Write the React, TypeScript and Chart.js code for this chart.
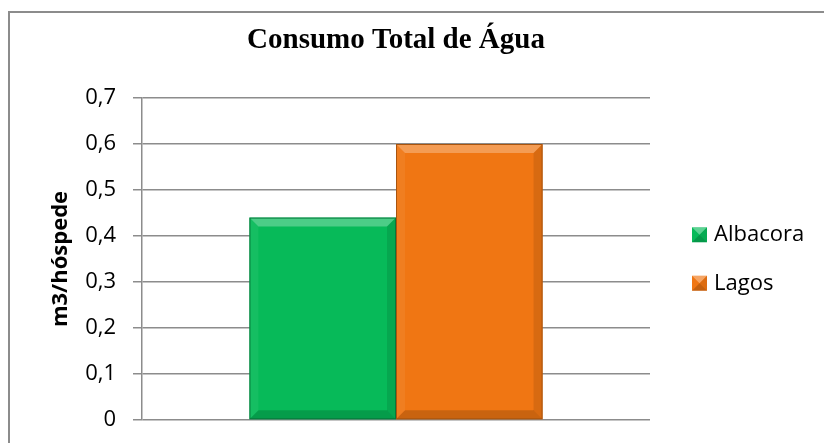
import { useEffect, useRef } from 'react';
import { Chart, registerables } from 'chart.js';

Chart.register(...registerables);

const categories = [''];
const seriesNames = ['Albacora', 'Lagos'];
const albacoraValues = [0.44];
const lagosValues = [0.6];
const yTickLabels = ['0', '0,1', '0,2', '0,3', '0,4', '0,5', '0,6', '0,7'];
const seriesColors = ['#07BA59', '#F07613'];
const seriesEdge = ['#067a3c', '#a9540e'];
const chartTitle = 'Consumo Total de Água';
const yAxisTitle = 'm3/hóspede';

const GRID = '#8c8c8c';

function bevelRect(ctx: CanvasRenderingContext2D, l: number, t: number, r: number, b: number, d: number) {
  const shades: [number[][], string][] = [
    [[[l, t], [r, t], [r - d, t + d], [l + d, t + d]], 'rgba(255,255,255,0.28)'],
    [[[l, t], [l + d, t + d], [l + d, b - d], [l, b]], 'rgba(255,255,255,0.06)'],
    [[[r, t], [r, b], [r - d, b - d], [r - d, t + d]], 'rgba(0,0,0,0.10)'],
    [[[l, b], [l + d, b - d], [r - d, b - d], [r, b]], 'rgba(0,0,0,0.16)'],
  ];
  shades.forEach(([pts, col]) => {
    ctx.beginPath();
    ctx.moveTo(pts[0][0], pts[0][1]);
    for (let k = 1; k < pts.length; k++) ctx.lineTo(pts[k][0], pts[k][1]);
    ctx.closePath();
    ctx.fillStyle = col;
    ctx.fill();
  });
}

const bevelPlugin = {
  id: 'bevelBars',
  afterDatasetsDraw(chart: any) {
    const ctx = chart.ctx as CanvasRenderingContext2D;
    ctx.save();
    chart.data.datasets.forEach((ds: any, i: number) => {
      const meta = chart.getDatasetMeta(i);
      meta.data.forEach((el: any) => {
        const p = el.getProps(['x', 'y', 'base', 'width'], true);
        const l = p.x - p.width / 2;
        const r = p.x + p.width / 2;
        bevelRect(ctx, l, p.y, r, p.base, 9);
        ctx.strokeStyle = seriesEdge[i];
        ctx.lineWidth = 1;
        ctx.strokeRect(l + 0.5, p.y + 0.5, p.width - 1, p.base - p.y - 1);
      });
    });
    ctx.restore();
  },
};

const sideLegendPlugin = {
  id: 'sideLegend',
  afterDraw(chart: any) {
    const ctx = chart.ctx as CanvasRenderingContext2D;
    const area = chart.chartArea;
    const n = chart.data.datasets.length;
    const mid = (area.top + area.bottom) / 2;
    const gap = 48.5;
    const box = 15;
    ctx.save();
    chart.data.datasets.forEach((ds: any, i: number) => {
      const cy = mid + (i - (n - 1) / 2) * gap;
      const x = area.right + 42;
      const y = cy - box / 2;
      ctx.fillStyle = ds.backgroundColor;
      ctx.fillRect(x, y, box, box);
      const cx = x + box / 2;
      const tris: [number[][], string][] = [
        [[[x, y], [x + box, y], [cx, cy]], 'rgba(255,255,255,0.35)'],
        [[[x, y + box], [x + box, y + box], [cx, cy]], 'rgba(0,0,0,0.18)'],
        [[[x + box, y], [x + box, y + box], [cx, cy]], 'rgba(0,0,0,0.08)'],
      ];
      tris.forEach(([pts, col]) => {
        ctx.beginPath();
        ctx.moveTo(pts[0][0], pts[0][1]);
        ctx.lineTo(pts[1][0], pts[1][1]);
        ctx.lineTo(pts[2][0], pts[2][1]);
        ctx.closePath();
        ctx.fillStyle = col;
        ctx.fill();
      });
      ctx.fillStyle = '#000';
      ctx.font = '22px "Open Sans"';
      ctx.textBaseline = 'middle';
      ctx.textAlign = 'left';
      ctx.fillText(ds.label, x + box + 7, cy);
    });
    ctx.restore();
  },
};

export default function App() {
  const canvasRef = useRef<HTMLCanvasElement | null>(null);

  useEffect(() => {
    if (!canvasRef.current) return;
    const chart = new Chart(canvasRef.current, {
      type: 'bar',
      data: {
        labels: categories,
        datasets: [
          { label: seriesNames[0], data: albacoraValues, backgroundColor: seriesColors[0] },
          { label: seriesNames[1], data: lagosValues, backgroundColor: seriesColors[1] },
        ],
      },
      options: {
        animation: false,
        responsive: true,
        maintainAspectRatio: false,
        layout: { padding: { left: 0, right: 174, top: 0, bottom: 23 } },
        datasets: { bar: { categoryPercentage: 0.577, barPercentage: 1 } },
        plugins: {
          legend: { display: false },
          tooltip: { enabled: false },
          title: {
            display: true,
            text: chartTitle,
            fullSize: false,
            color: '#000',
            font: { family: '"Liberation Serif", "Times New Roman", serif', size: 29, weight: 'bold', lineHeight: 1.2 },
            padding: { top: 10.6, bottom: 39.6 },
          },
        },
        scales: {
          x: { display: false },
          y: {
            min: 0,
            max: 0.7,
            afterFit: (s: any) => {
              s.width = 132;
              s.paddingTop = 0;
              s.paddingBottom = 0;
            },
            ticks: {
              stepSize: 0.1,
              padding: 17,
              color: '#000',
              font: { family: '"Open Sans"', size: 22 },
              callback: (_v: any, i: number) => yTickLabels[i],
            },
            grid: { color: GRID, lineWidth: 1.5, tickLength: 9, tickColor: GRID, drawTicks: true },
            border: { display: true, color: GRID, width: 1.5 },
            title: {
              display: true,
              text: yAxisTitle,
              color: '#000',
              font: { family: '"Open Sans"', size: 22, weight: 'bold', lineHeight: 1.2 },
              padding: { top: 37.8, bottom: 0 },
            },
          },
        },
      },
      plugins: [bevelPlugin, sideLegendPlugin],
    } as any);
    return () => chart.destroy();
  }, []);

  return (
    <div
      style={{
        position: 'fixed',
        left: 8,
        top: 11,
        width: 816,
        height: 432,
        boxSizing: 'border-box',
        borderLeft: '2px solid #8c8c8c',
        borderTop: '2px solid #8c8c8c',
        background: '#fff',
      }}
    >
      <canvas ref={canvasRef} />
    </div>
  );
}
